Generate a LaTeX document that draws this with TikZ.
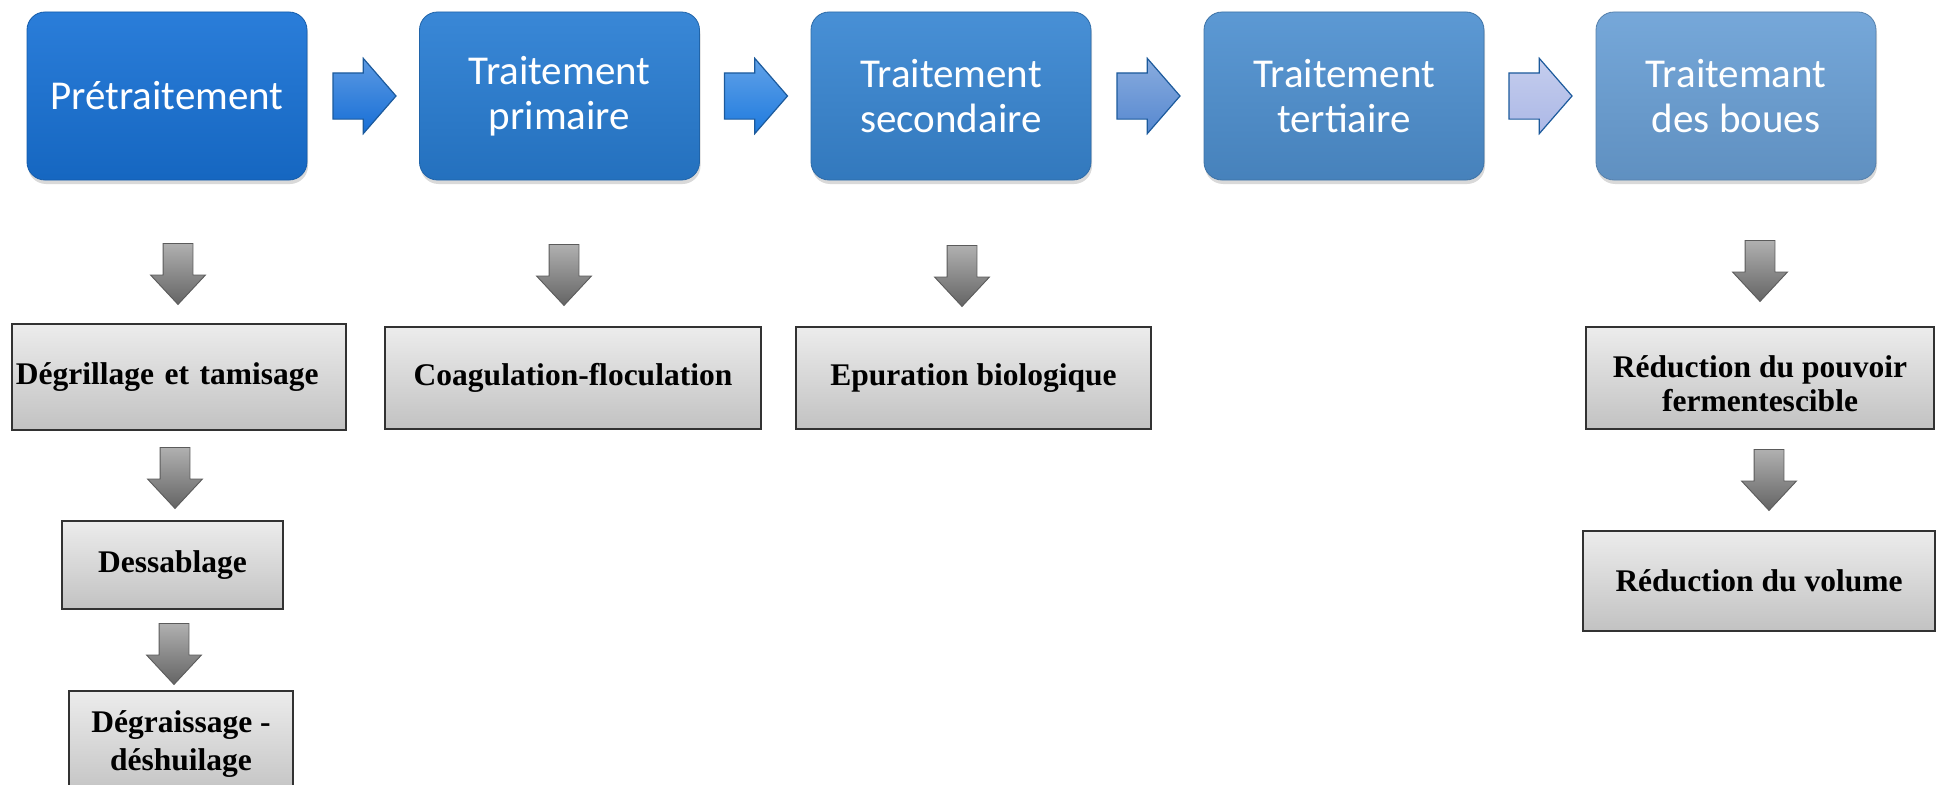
\documentclass[tikz,border=0pt]{standalone}
\usepackage{fontspec}
\newfontfamily\calfont{Carlito}
\newfontfamily\timesfont{Liberation Serif}
\usetikzlibrary{shapes.arrows,shadows,calc}

\definecolor{stepA}{RGB}{24,114,214}
\definecolor{stepB}{RGB}{40,125,211}
\definecolor{stepC}{RGB}{56,134,210}
\definecolor{stepD}{RGB}{78,144,208}
\definecolor{stepE}{RGB}{106,160,214}
\definecolor{arrA}{RGB}{22,110,214}
\definecolor{arrB}{RGB}{30,122,222}
\definecolor{arrC}{RGB}{86,136,208}
\definecolor{arrD}{RGB}{172,184,230}
\definecolor{arredge}{RGB}{28,90,156}
\definecolor{greytop}{RGB}{176,176,176}
\definecolor{greybot}{RGB}{100,100,100}
\definecolor{boxtop}{RGB}{236,236,236}
\definecolor{boxbot}{RGB}{194,194,194}
\definecolor{boxedge}{RGB}{50,50,50}

\begin{document}
\begin{tikzpicture}[x=1pt,y=-1pt,
  stagebox/.style={rounded corners=18pt, minimum width=280pt, minimum height=168pt,
    inner sep=0pt, align=center, text=white,
    font=\calfont\fontsize{41}{45}\selectfont,
    top color=#1!92!white, bottom color=#1!90!black, draw=#1!80!black, line width=.8pt,
    drop shadow={shadow xshift=1pt, shadow yshift=-4pt, opacity=.3}},
  flowarrow/.style={single arrow, anchor=tail, inner xsep=0pt, inner ysep=22.5pt,
    minimum height=63pt, minimum width=74pt,
    single arrow head extend=14.5pt, single arrow tip angle=98,
    top color=#1!70!white, bottom color=#1, draw=arredge, line width=1.2pt},
  downarrow/.style={single arrow, anchor=tail, shape border rotate=270, inner sep=14.5pt,
    minimum height=61pt, minimum width=54pt,
    single arrow head extend=12.5pt, single arrow tip angle=86,
    top color=greytop, bottom color=greybot, draw=boxedge!80, line width=.9pt},
  taskbox/.style={draw=boxedge, line width=1.3pt, top color=boxtop, bottom color=boxbot,
    inner sep=0pt, align=center, font=\timesfont\bfseries\fontsize{31.5}{38}\selectfont}]
\useasboundingbox (0,0) rectangle (1937,784);
\clip (0,0) rectangle (1937,784);
%%
  % Node: pre
  \node[stagebox=stepA] (pre) at (167,96) {Prétraitement};
  % Node: prim
  \node[stagebox=stepB] (prim) at (559.5,96) {Traitement\\primaire};
  % Node: sec
  \node[stagebox=stepC] (sec) at (951,96) {Traitement\\secondaire};
  % Node: ter
  \node[stagebox=stepD] (ter) at (1344,96) {Traitement\\tertiaire};
  % Node: boue
  \node[stagebox=stepE] (boue) at (1736,96) {Traitemant\\des boues};
  % Edge: pre -> prim -> sec -> ter -> boue
  \node[flowarrow=arrA] (f1) at ($(pre.east)+(25,0)$) {};
  \node[flowarrow=arrB] (f2) at ($(prim.east)+(24,0)$) {};
  \node[flowarrow=arrC] (f3) at ($(sec.east)+(25,0)$) {};
  \node[flowarrow=arrD] (f4) at ($(ter.east)+(24,0)$) {};
%
  % Node: degr
  \node[taskbox, minimum width=334pt, minimum height=106pt, text width=326pt, align=left]
    (degr) at (179,377) {Dégrillage et tamisage};
  % Node: dess
  \node[taskbox, minimum width=221pt, minimum height=88pt] (dess) at (172.5,565) {Dessablage};
  % Node: degra
  \node[taskbox, minimum width=224pt, minimum height=107pt] (degra) at (181,744.5)
    {Dégraissage -\\déshuilage};
  % Node: coag
  \node[taskbox, minimum width=376pt, minimum height=102pt] (coag) at (573,378)
    {Coagulation-floculation};
  % Node: epur
  \node[taskbox, minimum width=355pt, minimum height=102pt] (epur) at (973.5,378)
    {Epuration biologique};
  % Node: pouv
  \node[taskbox, minimum width=348pt, minimum height=102pt] (pouv) at (1760,378)
    {\rule{0pt}{34pt}Réduction du pouvoir\\[-4pt]fermentescible};
  % Node: vol
  \node[taskbox, minimum width=352pt, minimum height=100pt] (vol) at (1759,581)
    {Réduction du volume};
%
  % Edge: pre -> degr -> dess -> degra
  \node[downarrow] (d1) at (178,243) {};
  \node[downarrow] (d2) at (175,447) {};
  \node[downarrow] (d3) at (174,623) {};
  % Edge: prim -> coag
  \node[downarrow] (d4) at (564,244) {};
  % Edge: sec -> epur
  \node[downarrow] (d5) at (962,245) {};
  % Edge: boue -> pouv -> vol
  \node[downarrow] (d6) at (1760,240) {};
  \node[downarrow] (d7) at (1769,449) {};
%
\end{tikzpicture}
\end{document}
